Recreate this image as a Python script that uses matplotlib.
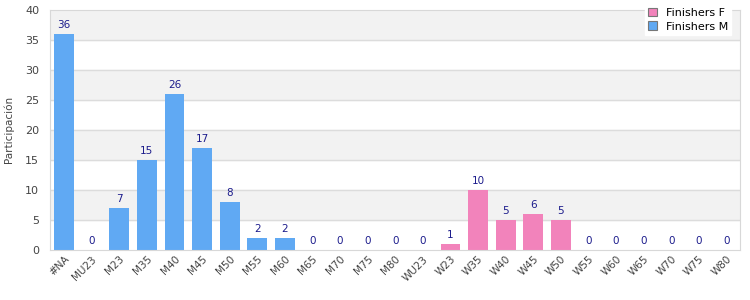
import matplotlib.pyplot as plt
import numpy as np

categories = ["#NA", "MU23", "M23", "M35", "M40", "M45", "M50", "M55", "M60",
              "M65", "M70", "M75", "M80", "WU23", "W23", "W35", "W40", "W45",
              "W50", "W55", "W60", "W65", "W70", "W75", "W80"]
finishers_m = [36, 0, 7, 15, 26, 17, 8, 2, 2, 0, 0, 0, 0, 0,
               None, None, None, None, None, None, None, None, None, None, None]
finishers_f = [None, None, None, None, None, None, None, None, None, None, None, None, None, None,
               1, 10, 5, 6, 5, 0, 0, 0, 0, 0, 0]

BLUE = "#60a9f3"
PINK = "#f283bb"
LABEL = "#1c1c8c"


def main():
    fig = plt.figure(figsize=(7.5, 3), dpi=100)
    ax = fig.add_axes([0.067, 0.167, 0.92, 0.8])
    x = np.arange(len(categories))

    # bandas alternas
    for lo in range(5, 40, 10):
        ax.axhspan(lo, lo + 5, color="#f2f2f2", zorder=0)
    for y in range(5, 40, 5):
        ax.axhline(y, color="#dcdcdc", lw=1, zorder=1)

    for vals, color, name in [(finishers_f, PINK, "Finishers F"),
                              (finishers_m, BLUE, "Finishers M")]:
        xs = [i for i, v in enumerate(vals) if v is not None]
        hs = [v for v in vals if v is not None]
        ax.bar(xs, hs, width=0.72, color=color, zorder=2, label=name)
        for i, v in zip(xs, hs):
            ax.text(i, v + 0.6, str(v), ha="center", va="bottom",
                    fontsize=7.5, color=LABEL, zorder=3)

    ax.set_xlim(-0.5, len(categories) - 0.5)
    ax.set_ylim(0, 40)
    ax.set_yticks(range(0, 45, 5))
    ax.set_xticks(x)
    ax.set_xticklabels(categories, rotation=45, ha="right", rotation_mode="anchor")
    ax.tick_params(axis="both", length=0, labelsize=7.5, colors="#444444", pad=3)
    ax.tick_params(axis="y", pad=8, labelsize=8)
    for s in ax.spines.values():
        s.set_color("#d8d8d8")
    ax.set_ylabel("Participación", fontsize=7.5, color="#444444", labelpad=8)

    leg = ax.legend(loc="upper right", bbox_to_anchor=(0.995, 1.045), fontsize=8,
                    frameon=True, fancybox=False, framealpha=1, edgecolor="white",
                    handlelength=0.8, handleheight=0.8, borderpad=0.3, labelspacing=0.3)
    for h in leg.legend_handles:
        h.set_edgecolor("#777777")
        h.set_linewidth(0.8)
    leg.set_zorder(5)

    fig.savefig("out.png", dpi=100)


if __name__ == "__main__":
    main()
